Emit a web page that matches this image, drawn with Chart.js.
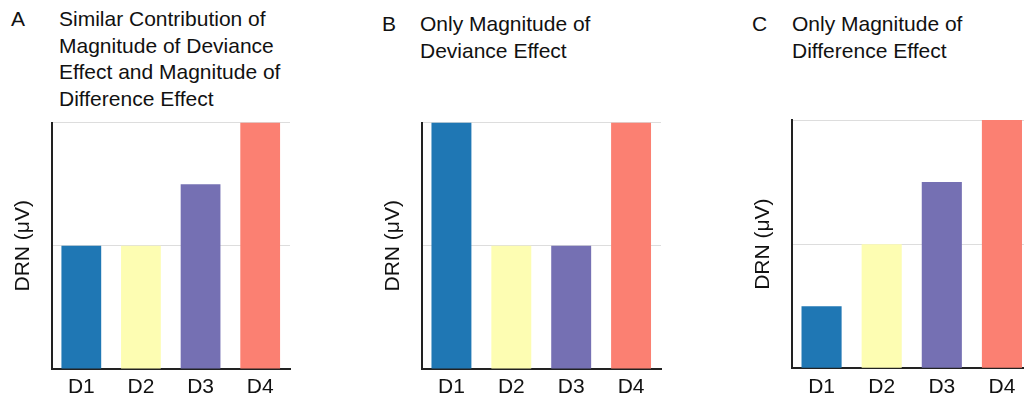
<!DOCTYPE html>
<html>
<head>
<meta charset="utf-8">
<script src="https://cdn.jsdelivr.net/npm/chart.js@4/dist/chart.umd.min.js"></script>
<style>
  html, body { margin: 0; padding: 0; background: #ffffff; width: 1024px; height: 400px; overflow: hidden; }
  body { position: relative; font-family: "Liberation Sans", Arial, sans-serif; color: #111; }
  .panel { position: absolute; }
  .letter, .title { position: absolute; font-size: 21px; line-height: 26.6px; white-space: nowrap; }
</style>
</head>
<body>
  <div class="letter" style="left:11px; top:6px;">A</div>
  <div class="title" style="left:59px; top:6px;">Similar Contribution of<br>Magnitude of Deviance<br>Effect and Magnitude of<br>Difference Effect</div>
  <div class="letter" style="left:382px; top:11px;">B</div>
  <div class="title" style="left:420px; top:11px;">Only Magnitude of<br>Deviance Effect</div>
  <div class="letter" style="left:752px; top:11px;">C</div>
  <div class="title" style="left:792px; top:11px;">Only Magnitude of<br>Difference Effect</div>

  <div class="panel" style="left:0px; top:100px; width:300px; height:300px;"><canvas id="chartA"></canvas></div>
  <div class="panel" style="left:370px; top:100px; width:300px; height:300px;"><canvas id="chartB"></canvas></div>
  <div class="panel" style="left:740px; top:100px; width:300px; height:300px;"><canvas id="chartC"></canvas></div>

<script>
// Conditions on the x axis
const categories = ['D1', 'D2', 'D3', 'D4'];
// Predicted DRN amplitude (arbitrary units) for each scenario
const valuesA = [1, 1, 1.5, 2];   // deviance + difference effects
const valuesB = [2, 1, 1, 2];     // deviance effect only
const valuesC = [0.5, 1, 1.5, 2]; // difference effect only
// Y-axis range and gridline step
const yMin = 0;
const yMax = 2;
const yStep = 1;
const yTitle = 'DRN (\u03bcV)';

const barColors = ['#1f77b4', '#fdfdb2', '#7570b3', '#fb8072'];
const FONT = '"Liberation Sans", Arial, sans-serif';

function drawPanel(id, values, pad, xHeight) {
  new Chart(document.getElementById(id), {
    type: 'bar',
    data: {
      labels: categories,
      datasets: [{
        data: values,
        backgroundColor: barColors,
        borderWidth: 0,
        categoryPercentage: 1,
        barPercentage: 0.667
      }]
    },
    options: {
      responsive: true,
      maintainAspectRatio: false,
      animation: false,
      layout: { padding: pad },
      plugins: { legend: { display: false }, tooltip: { enabled: false } },
      scales: {
        x: {
          grid: { display: false, drawTicks: false },
          border: { display: true, color: '#222222', width: 2 },
          ticks: { color: '#111111', padding: 6, font: { family: FONT, size: 21 } },
          afterFit: s => { s.height = xHeight; }
        },
        y: {
          min: yMin,
          max: yMax,
          grid: { color: '#dddddd', lineWidth: 1, drawTicks: false },
          border: { display: true, color: '#222222', width: 2 },
          ticks: { display: false, stepSize: yStep },
          title: {
            display: true,
            text: yTitle,
            color: '#111111',
            font: { family: FONT, size: 21 },
            padding: { top: 11, bottom: 0 }
          },
          afterFit: s => { s.width = 51.5; }
        }
      }
    }
  });
}

drawPanel('chartA', valuesA, { top: 22.5, right: 10, bottom: 0, left: 0 }, 31);
drawPanel('chartB', valuesB, { top: 22.5, right: 9, bottom: 0, left: 0 }, 31);
drawPanel('chartC', valuesC, { top: 20, right: 8, bottom: 0, left: 0 }, 31.7);
</script>
</body>
</html>
